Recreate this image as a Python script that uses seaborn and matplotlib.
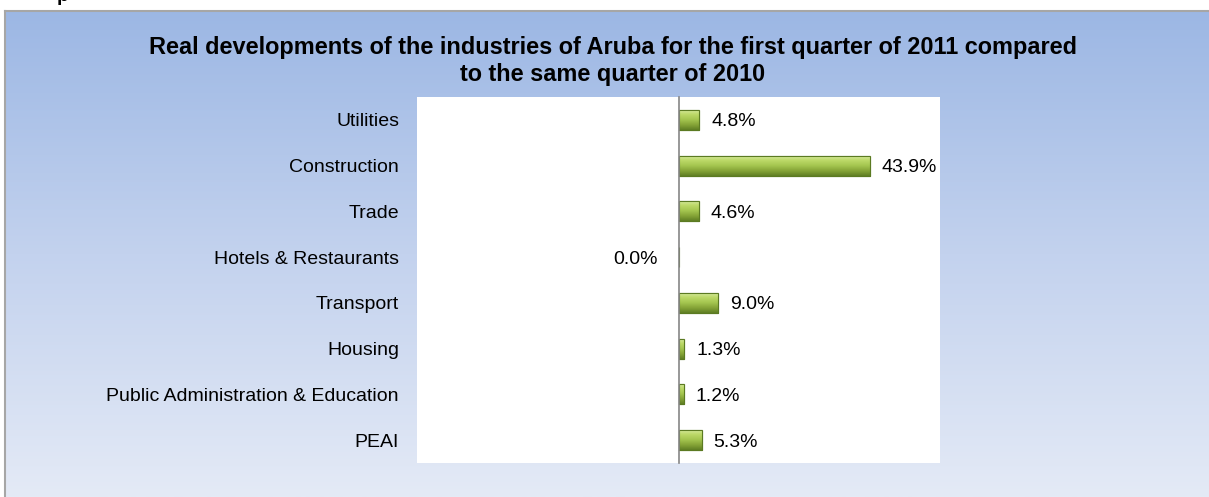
import numpy as np
import pandas as pd
import matplotlib
matplotlib.use("Agg")
import matplotlib.pyplot as plt
from matplotlib.colors import LinearSegmentedColormap
import seaborn as sns

# data
categories = ["Utilities", "Construction", "Trade", "Hotels & Restaurants",
              "Transport", "Housing", "Public Administration & Education", "PEAI"]
growth = [4.8, 43.9, 4.6, 0.0, 9.0, 1.3, 1.2, 5.3]
title = ("Real developments of the industries of Aruba for the first quarter of 2011 compared\n"
         "to the same quarter of 2010")

df = pd.DataFrame({"industry": categories, "growth": growth})

sns.set_style("white")
plt.rcParams["font.family"] = ["Liberation Sans", "DejaVu Sans"]
plt.rcParams["text.color"] = "black"

W, H = 1209, 497
fig = plt.figure(figsize=(W / 100, H / 100), dpi=100)
fig.patch.set_facecolor("white")

# chart area with vertical blue gradient
bg = fig.add_axes([5 / W, 0, 1 - 5 / W, (H - 11) / H])
grad = np.linspace(0, 1, 256).reshape(-1, 1)
bg_cmap = LinearSegmentedColormap.from_list("bg", ["#9cb7e4", "#c3d2ee", "#e4eaf6"])
bg.imshow(grad, cmap=bg_cmap, aspect="auto", extent=(0, 1, 0, 1), origin="upper")
bg.set_xlim(0, 1)
bg.set_ylim(0, 1)
bg.set_xticks([])
bg.set_yticks([])
for side in ["right", "bottom"]:
    bg.spines[side].set_visible(False)
for side in ["left", "top"]:
    bg.spines[side].set_color("#a6a6a6")
    bg.spines[side].set_linewidth(1.5)

# cut-off heading letter above the chart
fig.text(57 / W, 1 - 1 / H, "p", fontsize=14, fontweight="bold", va="baseline", ha="left")

fig.text(0.507, 1 - 61 / H, title, ha="center", va="center", fontsize=16.9,
         fontweight="bold", linespacing=1.17)

# plot area
ax = fig.add_axes([417 / W, 34 / H, (940 - 417) / W, 366 / H])
ax.set_facecolor("white")
sns.barplot(data=df, x="growth", y="industry", orient="h", ax=ax, width=0.44,
            color="#9bbb59", edgecolor="#5b7a22", linewidth=0.8)
ax.set_xlim(-60, 60)
ax.set_ylim(len(categories) - 0.5, -0.5)

# bevel-like gradient on the bars
bar_cmap = LinearSegmentedColormap.from_list(
    "bar", ["#dbeca8", "#bcd968", "#a5c650", "#85a437", "#5f7e24"])
for patch in ax.patches:
    x0, y0 = patch.get_x(), patch.get_y()
    w, h = patch.get_width(), patch.get_height()
    if w <= 0:
        continue
    im = ax.imshow(grad, cmap=bar_cmap, aspect="auto", origin="upper",
                   extent=(x0, x0 + w, y0 + h, y0), zorder=patch.get_zorder() + 0.1)
    im.set_clip_path(patch)
    ax.add_patch(plt.Rectangle((x0, y0), w, h, fill=False, edgecolor="#5b7a22",
                               linewidth=0.8, zorder=patch.get_zorder() + 0.2))
ax.set_xlim(-60, 60)
ax.set_ylim(len(categories) - 0.5, -0.5)

# value axis at zero with ticks between categories
for side in ["top", "right", "bottom"]:
    ax.spines[side].set_visible(False)
ax.spines["left"].set_position(("data", 0))
ax.spines["left"].set_color("#868686")
ax.spines["left"].set_linewidth(1.2)
ax.set_xticks([])
ax.set_yticks(np.arange(-0.5, len(categories), 1))
ax.set_yticklabels([])
ax.tick_params(axis="y", direction="out", length=4, width=1.0, color="#868686")
ax.set_xlabel("")
ax.set_ylabel("")

# category labels to the left of the plot area
lab_tr = matplotlib.transforms.blended_transform_factory(ax.transAxes, ax.transData)
for i, name in enumerate(categories):
    ax.text(-18 / 523, i, name, transform=lab_tr, ha="right", va="center_baseline",
            fontsize=14)

# value labels
for i, v in enumerate(growth):
    if v > 0:
        ax.annotate(f"{v:.1f}%", (v, i), xytext=(12, 0), textcoords="offset pixels",
                    ha="left", va="center_baseline", fontsize=14)
    else:
        ax.annotate(f"{v:.1f}%", (0, i), xytext=(-21, 0), textcoords="offset pixels",
                    ha="right", va="center_baseline", fontsize=14)

fig.savefig("out.png", dpi=100)
